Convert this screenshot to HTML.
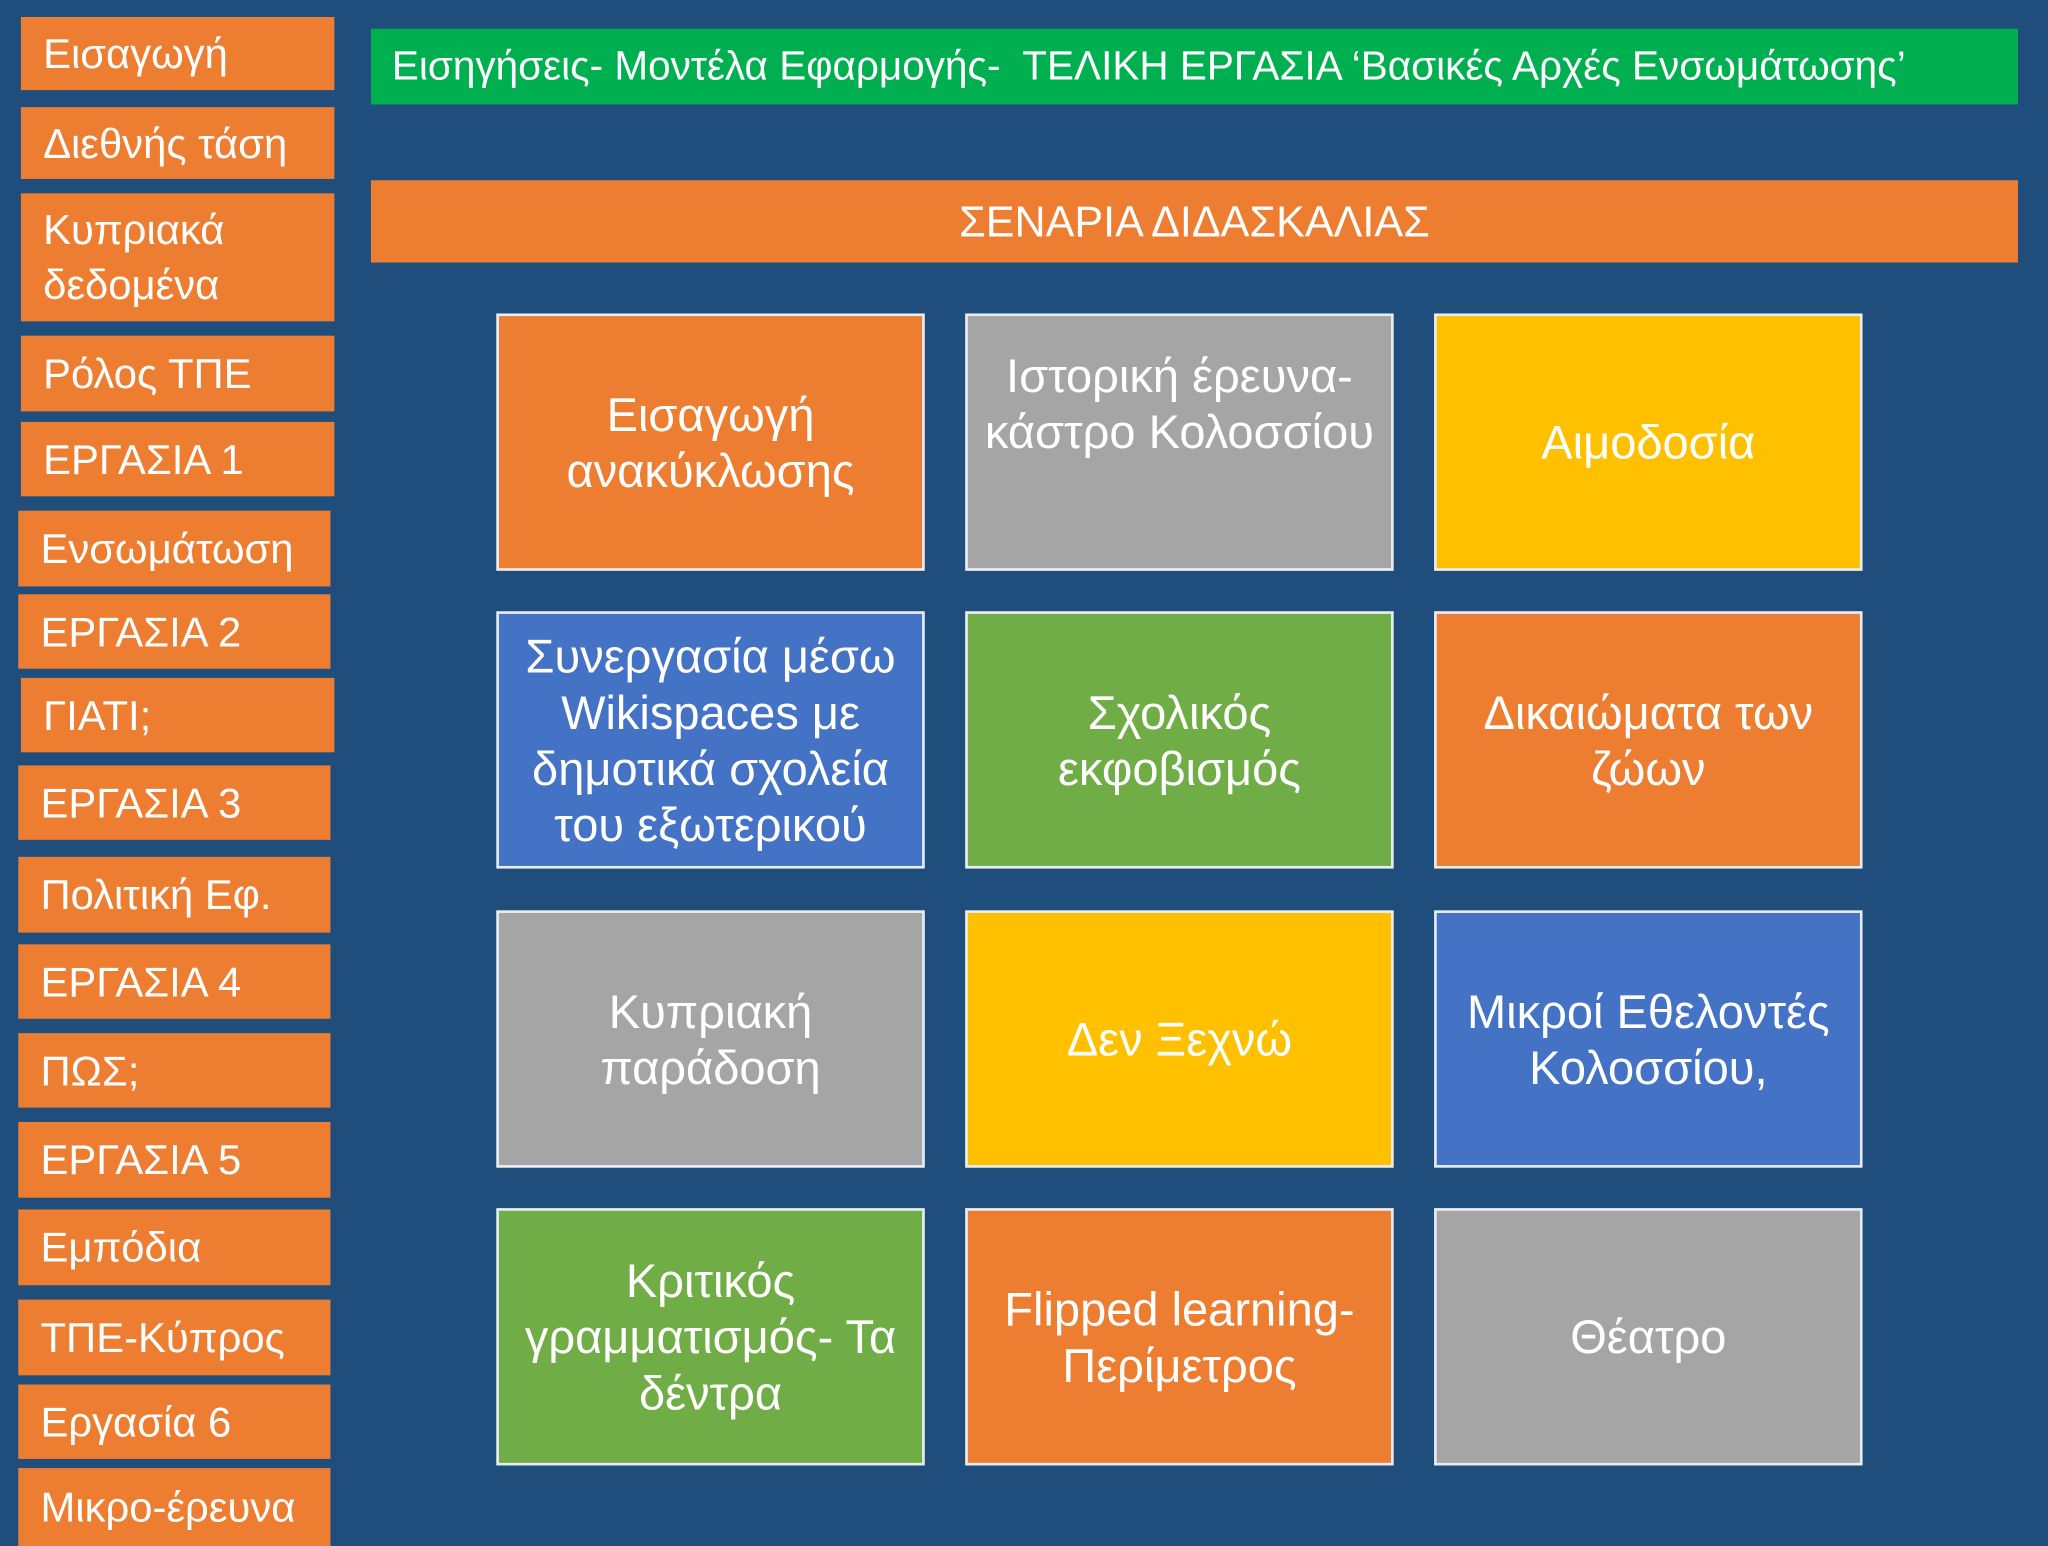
<!DOCTYPE html>
<html><head><meta charset="utf-8"><style>
html,body{margin:0;padding:0;width:2048px;height:1536px;overflow:hidden;background:#1f4e7d;}
#s{position:absolute;left:0;top:0;width:1568px;height:1176px;transform:scale(1.306122);transform-origin:0 0;font-family:"Liberation Sans","DejaVu Sans",sans-serif;color:#fff;}
.b{position:absolute;background:#ed7d31;box-sizing:border-box;}
.sb{font-size:32px;padding-left:17px;display:flex;align-items:center;line-height:42px;white-space:nowrap;overflow:hidden;}
.g{position:absolute;box-sizing:border-box;border:2px solid #e8edf3;display:flex;flex-direction:column;justify-content:center;align-items:center;text-align:center;font-size:36px;line-height:43px;white-space:nowrap;}
.o{background:#ed7d31}.gr{background:#a5a5a5}.y{background:#ffc000}.bl{background:#4472c4}.gn{background:#70ad47}
</style></head><body><div id="s">
<div class="b sb" style="left:16px;top:13px;width:240px;height:56px">Εισαγωγή</div>
<div class="b sb" style="left:16px;top:82px;width:240px;height:55px">Διεθνής τάση</div>
<div class="b sb" style="left:16px;top:148px;width:240px;height:98px">Κυπριακά<br>δεδομένα</div>
<div class="b sb" style="left:16px;top:257px;width:240px;height:58px">Ρόλος ΤΠΕ</div>
<div class="b sb" style="left:16px;top:323px;width:240px;height:57px">ΕΡΓΑΣΙΑ 1</div>
<div class="b sb" style="left:14px;top:391px;width:239px;height:58px">Ενσωμάτωση</div>
<div class="b sb" style="left:14px;top:455px;width:239px;height:57px">ΕΡΓΑΣΙΑ 2</div>
<div class="b sb" style="left:16px;top:519px;width:240px;height:57px">ΓΙΑΤΙ;</div>
<div class="b sb" style="left:14px;top:586px;width:239px;height:57px">ΕΡΓΑΣΙΑ 3</div>
<div class="b sb" style="left:14px;top:656px;width:239px;height:58px">Πολιτική Εφ.</div>
<div class="b sb" style="left:14px;top:723px;width:239px;height:57px">ΕΡΓΑΣΙΑ 4</div>
<div class="b sb" style="left:14px;top:791px;width:239px;height:57px">ΠΩΣ;</div>
<div class="b sb" style="left:14px;top:859px;width:239px;height:58px">ΕΡΓΑΣΙΑ 5</div>
<div class="b sb" style="left:14px;top:926px;width:239px;height:58px">Εμπόδια</div>
<div class="b sb" style="left:14px;top:995px;width:239px;height:58px">ΤΠΕ-Κύπρος</div>
<div class="b sb" style="left:14px;top:1060px;width:239px;height:57px">Εργασία 6</div>
<div class="b sb" style="left:14px;top:1124px;width:239px;height:60px">Μικρο-έρευνα</div>

<div class="b" style="left:284px;top:22px;width:1261px;height:58px;background:#00b050;font-size:31px;display:flex;align-items:center;padding-left:16px;white-space:nowrap">Εισηγήσεις- Μοντέλα Εφαρμογής-&nbsp; ΤΕΛΙΚΗ ΕΡΓΑΣΙΑ ‘Βασικές Αρχές Ενσωμάτωσης’</div>
<div class="b" style="left:284px;top:138px;width:1261px;height:63px;font-size:33px;display:flex;align-items:center;justify-content:center">ΣΕΝΑΡΙΑ ΔΙΔΑΣΚΑΛΙΑΣ</div>

<div class="g o" style="left:380px;top:240px;width:328px;height:197px">Εισαγωγή<br>ανακύκλωσης</div>
<div class="g gr" style="left:739px;top:240px;width:328px;height:197px;justify-content:flex-start;padding-top:24px">Ιστορική έρευνα-<br>κάστρο Κολοσσίου</div>
<div class="g y" style="left:1098px;top:240px;width:328px;height:197px">Αιμοδοσία</div>

<div class="g bl" style="left:380px;top:468px;width:328px;height:197px">Συνεργασία μέσω<br>Wikispaces με<br>δημοτικά σχολεία<br>του εξωτερικού</div>
<div class="g gn" style="left:739px;top:468px;width:328px;height:197px">Σχολικός<br>εκφοβισμός</div>
<div class="g o" style="left:1098px;top:468px;width:328px;height:197px">Δικαιώματα των<br>ζώων</div>

<div class="g gr" style="left:380px;top:697px;width:328px;height:197px">Κυπριακή<br>παράδοση</div>
<div class="g y" style="left:739px;top:697px;width:328px;height:197px">Δεν Ξεχνώ</div>
<div class="g bl" style="left:1098px;top:697px;width:328px;height:197px">Μικροί Εθελοντές<br>Κολοσσίου,</div>

<div class="g gn" style="left:380px;top:925px;width:328px;height:197px">Κριτικός<br>γραμματισμός- Τα<br>δέντρα</div>
<div class="g o" style="left:739px;top:925px;width:328px;height:197px">Flipped learning-<br>Περίμετρος</div>
<div class="g gr" style="left:1098px;top:925px;width:328px;height:197px">Θέατρο</div>
</div></body></html>
